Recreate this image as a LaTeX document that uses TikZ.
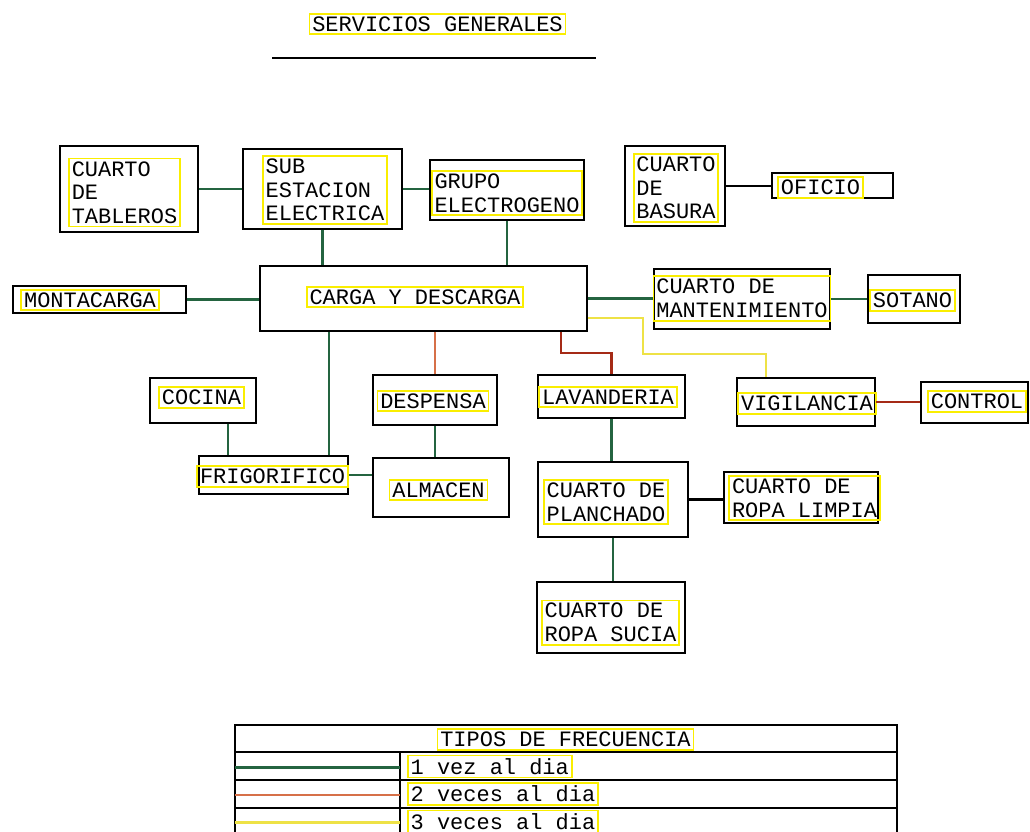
\documentclass[tikz,border=0pt]{standalone}
\usepackage{fontspec}
\setmonofont{Liberation Mono}
\usetikzlibrary{fit,calc}

\definecolor{vezverde}{RGB}{36,100,64}
\definecolor{vezrojo}{RGB}{214,112,72}
\definecolor{vezgranate}{RGB}{165,42,22}
\definecolor{vezamarillo}{RGB}{238,226,70}
\definecolor{marco}{RGB}{250,238,0}

\tikzset{
  room/.style={draw=black, line width=1.1pt, inner sep=0pt},
  lbl/.style={draw=marco, line width=1pt, inner sep=1.6pt, align=left,
    font=\ttfamily\fontsize{12.5}{13.5}\selectfont},
  vez1/.style={draw=vezverde, line width=1.2pt},
  vez2/.style={draw=vezrojo, line width=1.2pt},
  vez2b/.style={draw=vezgranate, line width=1.2pt},
  vez3/.style={draw=vezamarillo, line width=1.2pt},
  plain/.style={draw=black, line width=1.2pt}
}

\begin{document}
\begin{tikzpicture}[x=0.02cm,y=-0.02cm]
\useasboundingbox (0,0) rectangle (1030,831);
% Title
\node[lbl] (titulo) at (437.5,24) {SERVICIOS GENERALES};
\draw[line width=1.1pt] (272,58) -- (596,58);
% Rooms (outer boxes)
\foreach \n/\a/\b in {tab/{60,146}/{198,232}, sub/{243,149}/{402,229},
  gru/{430,160}/{584,220}, car/{260,266}/{587,331}, mon/{13,286}/{186,313},
  bas/{625,146}/{725,226}, ofi/{772,173}/{893,198}, man/{654,269}/{830,329},
  sot/{868,275}/{960,323}, coc/{150,378}/{256,423}, fri/{199,456}/{348,494},
  des/{373,375}/{497,425}, alm/{373,458}/{509,517}, lav/{538,375}/{685,418},
  pla/{538,462}/{688,537}, lim/{724,472}/{878,523}, suc/{537,582}/{685,653},
  vig/{737,378}/{875,426}, con/{921,382}/{1028,423}} {
  \node[room, fit={(\a) (\b)}] (\n) {};
}
% Labels
\foreach \n/\p/\t in {tab/{124.5,192.5}/{CUARTO\\DE\\TABLEROS},
  sub/{325,190}/{SUB\\ESTACION\\ELECTRICA}, gru/{507,193}/{GRUPO\\ELECTROGENO},
  car/{415,297}/{CARGA Y DESCARGA}, mon/{90,300}/{MONTACARGA},
  bas/{676,188}/{CUARTO\\DE\\BASURA}, ofi/{820.5,187.5}/{OFICIO},
  man/{742,298.5}/{CUARTO DE\\MANTENIMIENTO}, sot/{912.5,300.5}/{SOTANO},
  coc/{201.5,397.5}/{COCINA}, fri/{272.5,476.5}/{FRIGORIFICO},
  des/{433,401}/{DESPENSA}, alm/{438.5,490}/{ALMACEN},
  lav/{608,397}/{LAVANDERIA}, pla/{606,502}/{CUARTO DE\\PLANCHADO},
  lim/{804.5,498}/{CUARTO DE\\ROPA LIMPIA}, suc/{610.5,622.5}/{CUARTO DE\\ROPA SUCIA},
  vig/{807,403.5}/{VIGILANCIA}, con/{977,401.5}/{CONTROL}} {
  \node[lbl] (l\n) at (\p) {\t};
}
% 1 vez al dia
\draw[vez1] (tab) -- (sub);
\draw[vez1] (sub.east) -- (sub.east -| gru.west);
\draw[vez1] (sub.south) -- (sub.south |- car.north);
\draw[vez1] (gru.south) -- (gru.south |- car.north);
\draw[vez1] (mon.east) -- (mon.east -| car.west);
\draw[vez1] (car.east) -- (car.east -| man.west);
\draw[vez1] (man.east) -- (man.east -| sot.west);
\draw[vez1] (car.south -| 329,0) -- (fri.north -| 329,0);
\draw[vez1] (coc.south -| 228,0) -- (fri.north -| 228,0);
\draw[vez1] (fri.east) -- (fri.east -| alm.west);
\draw[vez1] (des.south) -- (des.south |- alm.north);
\draw[vez1] (lav.south) -- (lav.south |- pla.north);
\draw[vez1] (pla.south) -- (pla.south |- suc.north);
% 2 veces al dia
\draw[vez2] (car.south -| des.north) -- (des.north);
\draw[vez2b] (car.south -| 561,0) |- (lav.north |- 0,353) -- (lav.north);
\draw[vez2b] (vig.east) -- (vig.east -| con.west);
% 3 veces al dia
\draw[vez3] (car.east |- 0,318) -| (643,354) -| (vig.north -| 766,0);
% other links
\draw[plain] (bas.east) -- (bas.east -| ofi.west);
\draw[plain] (pla.east) -- (pla.east -| lim.west);
% Legend
\draw[line width=1.3pt] (235,725) rectangle (897,850);
\foreach \y in {752,780,808} {
  \draw[line width=1.3pt] (235,\y) -- (897,\y);
}
\draw[line width=1.1pt] (400,752) -- (400,850);
\node[lbl] (leyenda) at (565.5,739.5) {TIPOS DE FRECUENCIA};
\foreach \s/\y/\t in {vez1/766.5/{1 vez al dia}, vez2/794/{2 veces al dia}, vez3/821.5/{3 veces al dia}} {
  \draw[\s] (235,\y+1) -- (400,\y+1);
  \node[lbl, anchor=west] (f\s) at (407,\y) {\t};
}
\end{tikzpicture}
\end{document}
